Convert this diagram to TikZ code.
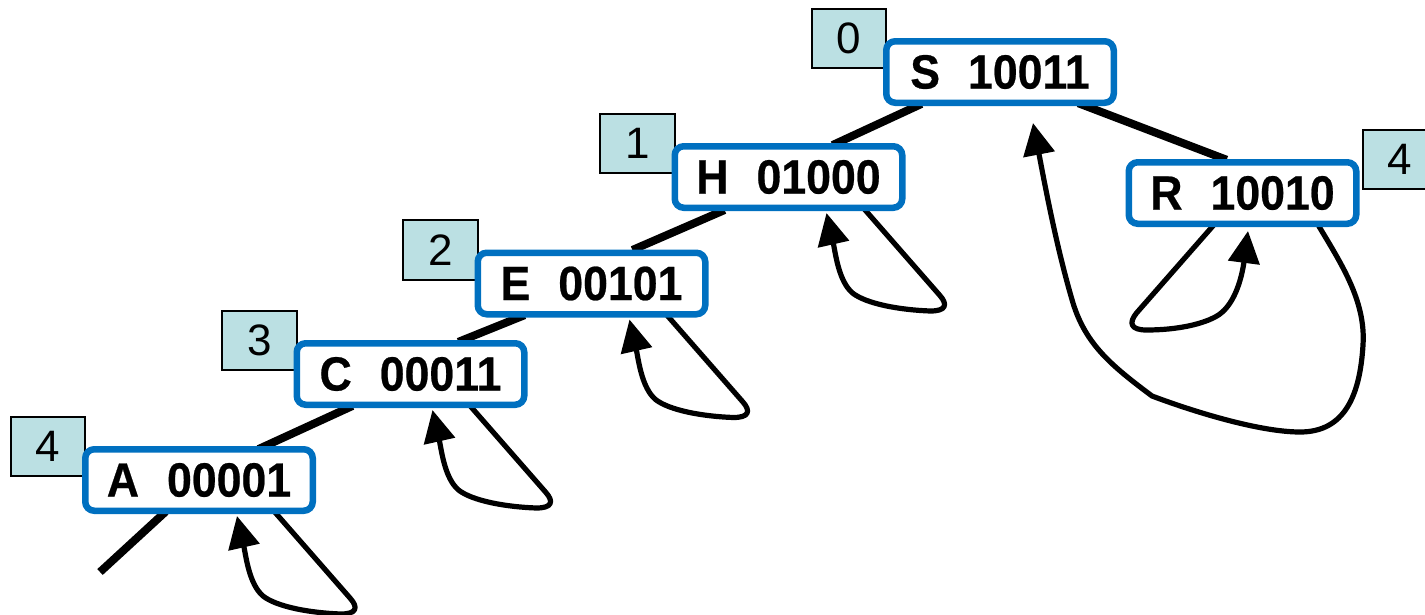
\documentclass[tikz,border=0pt]{standalone}
\usepackage{fontspec}
\setmainfont{Liberation Sans}
\newfontfamily\boxfont[FakeStretch=0.93,BoldFeatures={FakeBold=0.5}]{Liberation Sans}
\usetikzlibrary{arrows.meta}
\definecolor{boxblue}{RGB}{0,112,192}
\definecolor{lblfill}{RGB}{187,224,227}
\pgfdeclarelayer{edgelayer}
\pgfdeclarelayer{lablayer}
\pgfsetlayers{edgelayer,lablayer,main}
\newcommand\keyloop[2]{%
  \begin{scope}[shift={(#1.center)},xshift=#2]
    \draw[loopline] (74,30) -- (151,118) .. controls (160,128) and (157,134) .. (142,134)
      .. controls (112,133) and (78,127) .. (64,116)
      .. controls (50,104) and (47,76) .. (38,36);
  \end{scope}}
\begin{document}
\begin{tikzpicture}[x=1pt,y=-1pt,
  keybox/.style={draw=boxblue, line width=6.5pt, rounded corners=9pt, fill=white,
    minimum width=227.5pt, minimum height=61.5pt, inner sep=0pt,
    font=\boxfont\fontsize{48}{52}\selectfont\bfseries},
  lbl/.style={draw=black, line width=1.8pt, fill=lblfill, minimum width=74.5pt,
    minimum height=59.5pt, inner sep=0pt, font=\fontsize{44}{48}\selectfont},
  edge/.style={line width=8pt, black},
  loopline/.style={line width=5.2pt, line join=round, -{Triangle[length=32pt,width=31pt]}}]
\useasboundingbox (0,0) rectangle (1425,614);

\node[keybox] (S) at (1000,72) {S\hspace{28pt}10011};
\node[keybox] (H) at (788.5,177) {H\hspace{28pt}01000};
\node[keybox] (E) at (591.5,283.5) {E\hspace{28pt}00101};
\node[keybox] (C) at (410.5,374) {C\hspace{28pt}00011};
\node[keybox] (A) at (199,480) {A\hspace{28pt}00001};
\node[keybox] (R) at (1242.5,193) {R\hspace{28pt}10010};
\coordinate (Aend) at (100,572);

\begin{pgfonlayer}{lablayer}
\node[lbl] (n0) at ([shift={(-151,-33.5)}]S.center) {0};
\node[lbl] (n1) at ([shift={(-151,-33.5)}]H.center) {1};
\node[lbl] (n2) at ([shift={(-151,-33.5)}]E.center) {2};
\node[lbl] (n3) at ([shift={(-151,-33.5)}]C.center) {3};
\node[lbl] (n4) at ([shift={(-151,-33.5)}]A.center) {4};
\node[lbl] (n5) at ([shift={(157.5,-33.5)}]R.center) {4};
\end{pgfonlayer}

\begin{pgfonlayer}{edgelayer}
\draw[edge, shorten <=-5pt, shorten >=-5pt] ([shift={(-83,34)}]S.center) -- ([shift={(48.5,-34)}]H.center);
\draw[edge, shorten <=-5pt, shorten >=-5pt] ([shift={(-68.5,35)}]H.center) -- ([shift={(45.5,-35.5)}]E.center);
\draw[edge, shorten <=-5pt, shorten >=-5pt] ([shift={(-71.5,33.5)}]E.center) -- ([shift={(52.5,-34)}]C.center);
\draw[edge, shorten <=-5pt, shorten >=-5pt] ([shift={(-62.5,34)}]C.center) -- ([shift={(64,-33)}]A.center);
\draw[edge, shorten <=-5pt] ([shift={(-37,35)}]A.center) -- (Aend);
\draw[edge, shorten <=-5pt, shorten >=-5pt] ([shift={(83,33)}]S.center) -- ([shift={(-20.5,-35)}]R.center);

\keyloop{A}{0pt}
\keyloop{C}{-16pt}
\keyloop{E}{0pt}
\keyloop{H}{0pt}

\draw[loopline] ([shift={(-27,30)}]R.center) -- ([shift={(-106,120)}]R.center)
  .. controls ([shift={(-114,130)}]R.center) and ([shift={(-112,137)}]R.center) .. ([shift={(-96,137)}]R.center)
  .. controls ([shift={(-65,137)}]R.center) and ([shift={(-38,131)}]R.center) .. ([shift={(-24,122)}]R.center)
  .. controls ([shift={(-6,110)}]R.center) and ([shift={(0,80)}]R.center) .. ([shift={(5.5,38)}]R.center);

\draw[loopline] ([shift={(74.5,30)}]R.center)
  .. controls (1340,262) and (1366,300) .. (1363,345)
  .. controls (1360,395) and (1345,432) .. (1300,432)
  .. controls (1262,432) and (1200,414) .. (1152,396)
  .. controls (1112,366) and (1086,345) .. (1073,303)
  .. controls (1056,246) and (1044,180) .. ([shift={(33,51)}]S.center);
\end{pgfonlayer}
\end{tikzpicture}
\end{document}
